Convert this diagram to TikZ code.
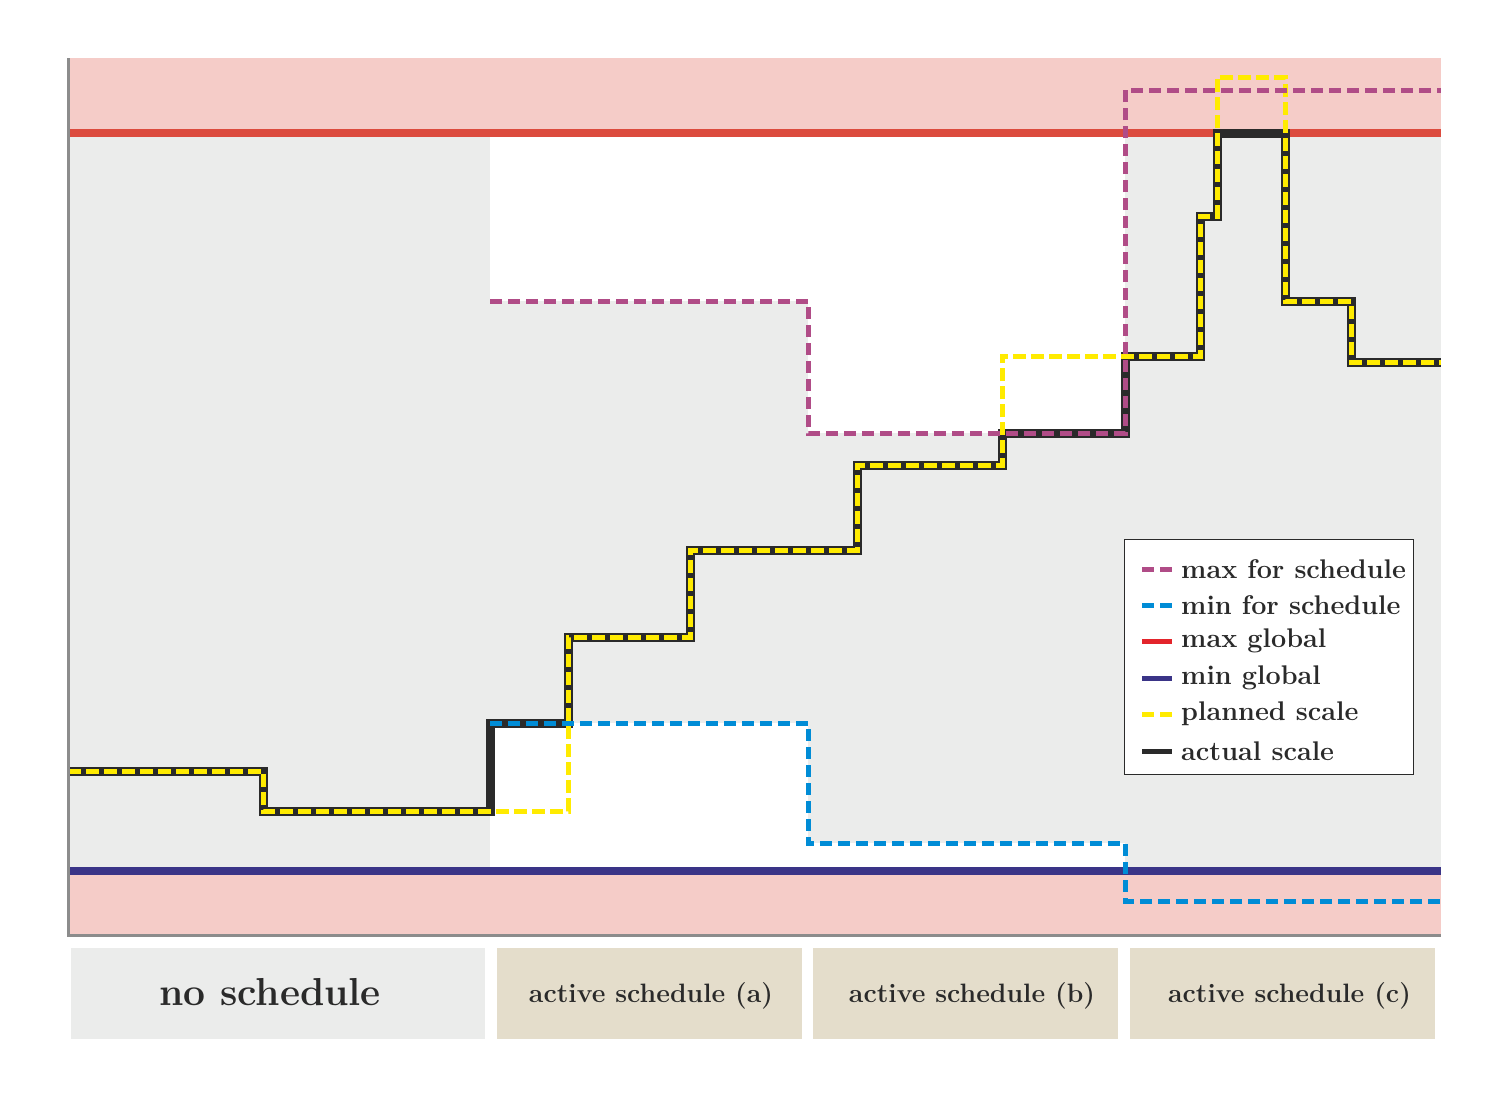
\documentclass[tikz,border=0pt]{standalone}
\usetikzlibrary{calc}
\definecolor{bggray}{HTML}{EBECEB}
\definecolor{pinkband}{HTML}{F5CCC8}
\definecolor{redline}{HTML}{DC4B3E}
\definecolor{navyline}{HTML}{3A3487}
\definecolor{axisgray}{HTML}{8C8C8C}
\definecolor{beige}{HTML}{E4DDCB}
\definecolor{actualc}{HTML}{2A2A2A}
\definecolor{plannedc}{HTML}{FFEB00}
\definecolor{maxsc}{HTML}{B04C87}
\definecolor{minsc}{HTML}{008CD6}
\definecolor{legred}{HTML}{E3242B}
\tikzset{
  actualline/.style={draw=actualc,line width=9pt,line join=miter},
  plannedline/.style={draw=plannedc,line width=5pt,dash pattern=on 13pt off 5pt},
  maxsched/.style={draw=maxsc,line width=5pt,dash pattern=on 12pt off 6pt},
  minsched/.style={draw=minsc,line width=5pt,dash pattern=on 12pt off 6pt},
  maxglob/.style={draw=redline,line width=8pt},
  minglob/.style={draw=navyline,line width=8pt},
  axisline/.style={draw=axisgray,line width=3pt},
  schedbox/.style={fill=beige,minimum width=305pt,minimum height=91pt,inner sep=0pt},
  schedtext/.style={inner sep=0pt,font=\bfseries\fontsize{26.6}{30}\selectfont,text=actualc},
  legtext/.style={anchor=west,inner sep=0pt,font=\bfseries\fontsize{27}{32}\selectfont,text=actualc},
}
\begin{document}
\begin{tikzpicture}[x=1pt,y=-1pt]
\useasboundingbox (0,0) rectangle (1511,1100);
\fill[white] (0,0) rectangle (1511,1100);
% plot area background
\fill[bggray] (68,58) rectangle (1441,935);
\fill[white] (490,137) rectangle (808,301);
\fill[white] (490,723) rectangle (808,867);
\fill[white] (808,137) rectangle (1125,433);
\fill[white] (808,843) rectangle (1125,867);
% pink bands
\fill[pinkband] (68,58) rectangle (1441,133);
\fill[pinkband] (68,871) rectangle (1441,935);
% global lines
\draw[maxglob] (68,133) coordinate (mg0) -- (1441,133) coordinate (mg1);
\draw[minglob] (68,871) coordinate (ng0) -- (1441,871) coordinate (ng1);
% actual scale
\draw[actualline] (68,771) -- (263,771) -- (263,811) -- (490,811) -- (490,723) -- (568,723) -- (568,637) -- (690,637) -- (690,550) -- (857,550) -- (857,465) -- (1002,465) -- (1002,433) -- (1125,433) -- (1125,356) -- (1200,356) -- (1200,216) -- (1217,216) -- (1217,133) -- (1285,133) -- (1285,301) -- (1351,301) -- (1351,362) -- (1441,362);
% planned scale
\draw[plannedline] (68,771) -- (263,771) -- (263,811) -- (568,811) -- (568,637) -- (690,637) -- (690,550) -- (857,550) -- (857,465) -- (1002,465) -- (1002,356) -- (1200,356) -- (1200,216) -- (1217,216) -- (1217,77) -- (1285,77) -- (1285,301) -- (1351,301) -- (1351,362) -- (1441,362);
% schedule limits
\draw[maxsched] (490,301) -- (808,301) -- (808,433) -- (1125,433) -- (1125,90) -- (1441,90);
\draw[minsched] (490,723) -- (808,723) -- (808,843) -- (1125,843) -- (1125,901) -- (1441,901);
% axes
\draw[axisline] (68,58) -- (68,935) -- (1441,935);
% legend
\node[draw=actualc,line width=1pt,fill=white,minimum width=289pt,minimum height=235pt,inner sep=0pt,anchor=north west] (legend) at (1124,539) {};
\foreach \yy/\txt [count=\i] in {569/max for schedule,605/min for schedule,641/max global,678/min global,714/planned scale,751/actual scale}{
  \coordinate (la\i) at (1142,\yy);
  \coordinate (lb\i) at (1172,\yy);
  \node[legtext] (lt\i) at (1181,\yy) {\txt};
}
\draw[maxsched] (la1) -- (lb1);
\draw[minsched] (la2) -- (lb2);
\draw[draw=legred,line width=5pt] (la3) -- (lb3);
\draw[draw=navyline,line width=5pt] (la4) -- (lb4);
\draw[plannedline,dash pattern=on 12pt off 6pt] (la5) -- (lb5);
\draw[draw=actualc,line width=5pt] (la6) -- (lb6);
% schedule labels
\node[schedbox,fill=bggray,minimum width=414pt] (nosched) at (278,993.5) {};
\node[schedbox] (scha) at (649,993.5) {};
\node[schedbox] (schb) at (965.5,993.5) {};
\node[schedbox] (schc) at (1282.5,993.5) {};
\node[schedtext,font=\bfseries\fontsize{39}{44}\selectfont] (nosched-t) at ($(nosched)+(-8,-1)$) {no schedule};
\node[schedtext] (scha-t) at ($(scha)+(2,2)$) {active schedule (a)};
\node[schedtext] (schb-t) at ($(schb)+(6.5,2)$) {active schedule (b)};
\node[schedtext] (schc-t) at ($(schc)+(7,2)$) {active schedule (c)};
\end{tikzpicture}
\end{document}
